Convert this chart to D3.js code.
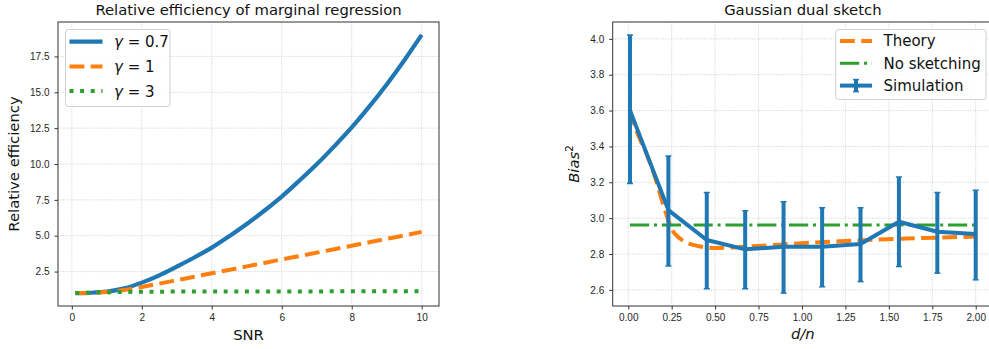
<!DOCTYPE html>
<html>
<head>
<meta charset="utf-8">
<script src="https://cdn.jsdelivr.net/npm/d3@7"></script>
<style>
  body { margin: 0; background: #fff; }
  svg { display: block; font-family: "DejaVu Sans", sans-serif; }
  .grid line { stroke: #c4c4c4; stroke-width: 0.8; stroke-dasharray: 1,1.4; }
  .tick text { fill: #262626; font-size: 10px; }
  .tick line { stroke: #333; }
</style>
</head>
<body>
<div id="chart"></div>
<script>
// left panel: relative efficiency vs SNR
const snr = [0.1, 0.5, 1, 1.5, 2, 2.5, 3, 3.5, 4, 4.5, 5, 5.5, 6, 6.5, 7, 7.5, 8, 8.5, 9, 9.5, 10];
const effG07 = [1.0, 1.02, 1.1, 1.33, 1.73, 2.24, 2.85, 3.48, 4.17, 4.97, 5.82, 6.74, 7.73, 8.83, 9.98, 11.23, 12.55, 14.0, 15.55, 17.22, 19.0];
const effG1 = [1.0, 1.01, 1.07, 1.22, 1.43, 1.66, 1.9, 2.14, 2.38, 2.62, 2.86, 3.1, 3.35, 3.58, 3.82, 4.06, 4.3, 4.54, 4.78, 5.02, 5.27];
const effG3 = [1.0, 1.03, 1.06, 1.08, 1.09, 1.1, 1.105, 1.108, 1.11, 1.112, 1.114, 1.116, 1.117, 1.118, 1.119, 1.12, 1.121, 1.122, 1.123, 1.124, 1.125];
const leftXTicks = [0, 2, 4, 6, 8, 10];
const leftYTicks = [2.5, 5, 7.5, 10, 12.5, 15, 17.5];

// right panel: Gaussian dual sketch
const dn = [0.01, 0.231, 0.452, 0.673, 0.894, 1.116, 1.337, 1.558, 1.779, 2.0];
const simMean = [3.601, 3.045, 2.878, 2.826, 2.841, 2.841, 2.856, 2.98, 2.924, 2.912];
const simLow = [3.193, 2.733, 2.606, 2.606, 2.582, 2.617, 2.646, 2.73, 2.693, 2.656];
const simHigh = [4.022, 3.347, 3.143, 3.041, 3.091, 3.058, 3.058, 3.23, 3.143, 3.156];
const theoryX = [0.01, 0.05, 0.1, 0.15, 0.2, 0.25, 0.3, 0.35, 0.4, 0.45, 0.5, 0.6, 0.7, 0.8, 1.0, 1.2, 1.4, 1.6, 1.8, 2.0];
const theoryY = [3.6, 3.48, 3.37, 3.24, 3.08, 2.94, 2.885, 2.858, 2.845, 2.837, 2.834, 2.836, 2.842, 2.848, 2.86, 2.87, 2.879, 2.886, 2.892, 2.897];
const noSketch = 2.962;
const rightXTicks = [0, 0.25, 0.5, 0.75, 1, 1.25, 1.5, 1.75, 2];
const rightYTicks = [2.6, 2.8, 3.0, 3.2, 3.4, 3.6, 3.8, 4.0];

const blue = "#1f77b4", orange = "#ff7f0e", green = "#2ca02c";

const svg = d3.select("#chart").append("svg")
  .attr("width", 989).attr("height", 349);

// matplotlib-like 5% padding
function pad(lo, hi) { const m = (hi - lo) * 0.05; return [lo - m, hi + m]; }

function panel(box, xDom, yDom, xTicks, yTicks, xFmt, yFmt, id) {
  const x = d3.scaleLinear().domain(xDom).range([box.left, box.right]);
  const y = d3.scaleLinear().domain(yDom).range([box.bottom, box.top]);
  const g = svg.append("g");
  svg.append("clipPath").attr("id", id)
    .append("rect").attr("x", box.left).attr("y", box.top)
    .attr("width", box.right - box.left).attr("height", box.bottom - box.top);

  // grid
  const grid = g.append("g").attr("class", "grid");
  grid.selectAll(".gx").data(xTicks).join("line")
    .attr("x1", d => x(d)).attr("x2", d => x(d))
    .attr("y1", box.top).attr("y2", box.bottom);
  grid.selectAll(".gy").data(yTicks).join("line")
    .attr("y1", d => y(d)).attr("y2", d => y(d))
    .attr("x1", box.left).attr("x2", box.right);

  // axes
  g.append("g").attr("transform", `translate(0,${box.bottom})`)
    .call(d3.axisBottom(x).tickValues(xTicks).tickFormat(xFmt).tickSize(3.5).tickPadding(4))
    .call(a => a.select(".domain").remove());
  g.append("g").attr("transform", `translate(${box.left},0)`)
    .call(d3.axisLeft(y).tickValues(yTicks).tickFormat(yFmt).tickSize(3.5).tickPadding(5))
    .call(a => a.select(".domain").remove());

  const plot = svg.append("g").attr("clip-path", `url(#${id})`);
  return {x, y, plot};
}

function frame(box) {
  svg.append("rect")
    .attr("x", box.left).attr("y", box.top)
    .attr("width", box.right - box.left).attr("height", box.bottom - box.top)
    .attr("fill", "none").attr("stroke", "#333").attr("stroke-width", 1);
}

// ---------- left panel ----------
const boxL = {left: 58, right: 439, top: 22, bottom: 306};
const L = panel(boxL, pad(0.1, 10), pad(1.0, 19.0), leftXTicks, leftYTicks,
  d3.format("d"), d3.format(".1f"), "clipL");

const leftSeries = [
  {vals: effG07, color: blue, dash: null, w: 4.2},
  {vals: effG1, color: orange, dash: "14.8,6.4", w: 4},
  {vals: effG3, color: green, dash: "4,6.6", w: 4}
];
leftSeries.forEach(s => {
  L.plot.append("path")
    .datum(snr.map((v, i) => [v, s.vals[i]]))
    .attr("fill", "none").attr("stroke", s.color).attr("stroke-width", s.w)
    .attr("stroke-dasharray", s.dash)
    .attr("d", d3.line().x(d => L.x(d[0])).y(d => L.y(d[1])).curve(d3.curveMonotoneX));
});
frame(boxL);

svg.append("text").attr("x", (boxL.left + boxL.right) / 2).attr("y", 15)
  .attr("text-anchor", "middle").attr("font-size", 14.8).attr("fill", "#111")
  .text("Relative efficiency of marginal regression");
svg.append("text").attr("x", (boxL.left + boxL.right) / 2).attr("y", 340)
  .attr("text-anchor", "middle").attr("font-size", 14.8).attr("fill", "#111")
  .text("SNR");
svg.append("text")
  .attr("transform", `translate(14,${(boxL.top + boxL.bottom) / 2}) rotate(-90)`)
  .attr("text-anchor", "middle").attr("dy", "0.35em").attr("font-size", 14.8).attr("fill", "#111")
  .text("Relative efficiency");

// left legend
const legL = svg.append("g");
legL.append("rect").attr("x", 65.5).attr("y", 29.5).attr("width", 104.5).attr("height", 77)
  .attr("rx", 3).attr("fill", "#fff").attr("fill-opacity", 0.85)
  .attr("stroke", "#d0d0d0").attr("stroke-width", 1);
const legLabelsL = ["0.7", "1", "3"];
leftSeries.forEach((s, i) => {
  const yy = 41.7 + i * 24.7;
  legL.append("line").attr("x1", 69.5).attr("x2", 102.5).attr("y1", yy).attr("y2", yy)
    .attr("stroke", s.color).attr("stroke-width", s.w).attr("stroke-dasharray", s.dash);
  const t = legL.append("text").attr("x", 114).attr("y", yy).attr("dy", "0.36em")
    .attr("font-size", 15).attr("fill", "#111");
  t.append("tspan").attr("font-style", "italic").text("γ");
  t.append("tspan").text(" = " + legLabelsL[i]);
});

// ---------- right panel ----------
const boxR = {left: 612.7, right: 993, top: 22, bottom: 306};
const R = panel(boxR, pad(0.01, 2.0), pad(d3.min(simLow), d3.max(simHigh)), rightXTicks, rightYTicks,
  d3.format(".2f"), d3.format(".1f"), "clipR");

const lineR = d3.line().x(d => R.x(d[0])).y(d => R.y(d[1]));
R.plot.append("path")
  .datum(theoryX.map((v, i) => [v, theoryY[i]]))
  .attr("fill", "none").attr("stroke", orange).attr("stroke-width", 4)
  .attr("stroke-dasharray", "14.8,6.4")
  .attr("d", lineR.curve(d3.curveMonotoneX));
R.plot.append("path")
  .datum([[dn[0], noSketch], [dn[dn.length - 1], noSketch]])
  .attr("fill", "none").attr("stroke", green).attr("stroke-width", 3)
  .attr("stroke-dasharray", "19.2,4.8,3,4.8")
  .attr("d", d3.line().x(d => R.x(d[0])).y(d => R.y(d[1])));

// error bars
const eb = R.plot.append("g").attr("stroke", blue);
eb.selectAll(".bar").data(dn).join("line")
  .attr("x1", d => R.x(d)).attr("x2", d => R.x(d))
  .attr("y1", (d, i) => R.y(simLow[i])).attr("y2", (d, i) => R.y(simHigh[i]))
  .attr("stroke-width", 4);
[simLow, simHigh].forEach(arr => {
  eb.append("g").selectAll("line").data(dn).join("line")
    .attr("x1", d => R.x(d) - 3).attr("x2", d => R.x(d) + 3)
    .attr("y1", (d, i) => R.y(arr[i])).attr("y2", (d, i) => R.y(arr[i]))
    .attr("stroke-width", 1.5);
});
R.plot.append("path")
  .datum(dn.map((v, i) => [v, simMean[i]]))
  .attr("fill", "none").attr("stroke", blue).attr("stroke-width", 4)
  .attr("stroke-linejoin", "round")
  .attr("d", d3.line().x(d => R.x(d[0])).y(d => R.y(d[1])));
frame(boxR);

svg.append("text").attr("x", (boxR.left + boxR.right) / 2).attr("y", 15)
  .attr("text-anchor", "middle").attr("font-size", 14.8).attr("fill", "#111")
  .text("Gaussian dual sketch");
svg.append("text").attr("x", (boxR.left + boxR.right) / 2).attr("y", 339)
  .attr("text-anchor", "middle").attr("font-size", 14.8).attr("font-style", "italic").attr("fill", "#111")
  .text("d/n");
const bl = svg.append("text")
  .attr("transform", `translate(574,${(boxR.top + boxR.bottom) / 2}) rotate(-90)`)
  .attr("text-anchor", "middle").attr("dy", "0.35em").attr("font-size", 14.8).attr("fill", "#111");
bl.append("tspan").attr("font-style", "italic").text("Bias");
bl.append("tspan").attr("font-size", 10.5).attr("dy", "-0.6em").text("2");

// right legend
const legR = svg.append("g");
legR.append("rect").attr("x", 835.7).attr("y", 29.5).attr("width", 150.3).attr("height", 70)
  .attr("rx", 3).attr("fill", "#fff").attr("fill-opacity", 0.85)
  .attr("stroke", "#d0d0d0").attr("stroke-width", 1);
const legItemsR = [
  {name: "Theory", color: orange, dash: "14.8,6.4", w: 4},
  {name: "No sketching", color: green, dash: "19.2,4.8,3,4.8", w: 3},
  {name: "Simulation", color: blue, dash: null, w: 4, err: true}
];
legItemsR.forEach((s, i) => {
  const yy = 41 + i * 22.3;
  legR.append("line").attr("x1", 840).attr("x2", 872).attr("y1", yy).attr("y2", yy)
    .attr("stroke", s.color).attr("stroke-width", s.w).attr("stroke-dasharray", s.dash);
  if (s.err) {
    legR.append("line").attr("x1", 856).attr("x2", 856).attr("y1", yy - 6).attr("y2", yy + 6)
      .attr("stroke", s.color).attr("stroke-width", 4);
    [yy - 6, yy + 6].forEach(c => legR.append("line").attr("x1", 853).attr("x2", 859)
      .attr("y1", c).attr("y2", c).attr("stroke", s.color).attr("stroke-width", 1.5));
  }
  legR.append("text").attr("x", 883.5).attr("y", yy).attr("dy", "0.36em")
    .attr("font-size", 15).attr("fill", "#111").text(s.name);
});
</script>
</body>
</html>
